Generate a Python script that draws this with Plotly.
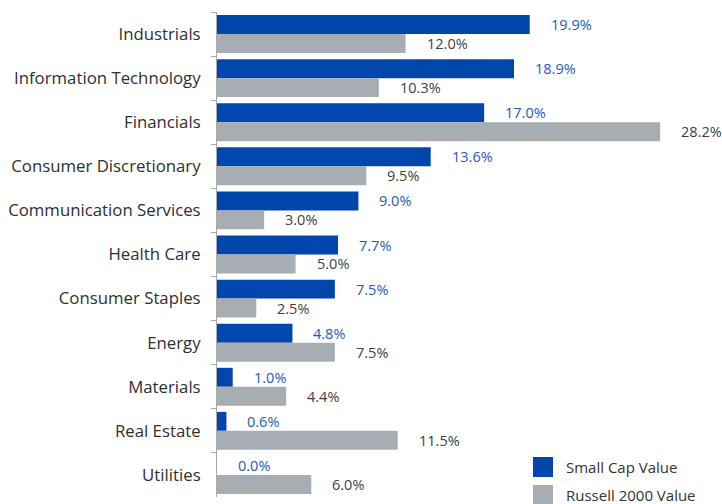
import plotly.graph_objects as go

categories = ["Industrials", "Information Technology", "Financials", "Consumer Discretionary",
              "Communication Services", "Health Care", "Consumer Staples", "Energy",
              "Materials", "Real Estate", "Utilities"]
small_cap = [19.9, 18.9, 17.0, 13.6, 9.0, 7.7, 7.5, 4.8, 1.0, 0.6, 0.0]
russell = [12.0, 10.3, 28.2, 9.5, 3.0, 5.0, 2.5, 7.5, 4.4, 11.5, 6.0]
series_names = ["Small Cap Value", "Russell 2000 Value"]

BLUE = "#0046AD"
GREY = "#A6AEB4"
FONT = "Open Sans"

fig = go.Figure()
fig.add_trace(go.Bar(y=categories, x=small_cap, orientation="h", name=series_names[0],
                     marker=dict(color=BLUE, line=dict(width=0)), showlegend=False))
fig.add_trace(go.Bar(y=categories, x=russell, orientation="h", name=series_names[1],
                     marker=dict(color=GREY, line=dict(width=0)), showlegend=False))

BAND_PX = 485 / 11
BARGAP = 0.14
OFF = BAND_PX * (1 - BARGAP) / 4

ann = []
for c, v in zip(categories, small_cap):
    ann.append(dict(x=v, y=c, text=f"{v:.1f}%", showarrow=False, xanchor="left",
                    xshift=19, yshift=OFF, font=dict(family=FONT, size=14.5, color="#2558C4")))
for c, v in zip(categories, russell):
    ann.append(dict(x=v, y=c, text=f"{v:.1f}%", showarrow=False, xanchor="left",
                    xshift=19, yshift=-OFF, font=dict(family=FONT, size=14.5, color="#404040")))

# legend (manual)
L, R, T, B = 217, 10, 12, 7
PW, PH = 722 - L - R, 504 - T - B
def px(x): return (x - L) / PW
def py(y): return (504 - B - y) / PH
shapes = []
for i, (name, col) in enumerate(zip(series_names, [BLUE, GREY])):
    y0 = 457 + i * 28
    shapes.append(dict(type="rect", xref="paper", yref="paper", x0=px(533), x1=px(553),
                       y0=py(y0 + 20), y1=py(y0), fillcolor=col, line=dict(width=0)))
    ann.append(dict(xref="paper", yref="paper", x=px(564), y=py(y0 + 10), text=name,
                    showarrow=False, xanchor="left", yanchor="middle",
                    font=dict(family=FONT, size=15, color="#333333")))

fig.update_layout(
    width=722, height=504,
    margin=dict(l=L, r=R, t=T, b=B),
    paper_bgcolor="white", plot_bgcolor="white",
    barmode="group", bargap=BARGAP, bargroupgap=0,
    annotations=ann, shapes=shapes,
    font=dict(family=FONT, color="#333333"),
)
fig.update_xaxes(range=[0, 31.5], visible=False)
fig.update_yaxes(autorange="reversed", showline=True, linecolor="#A8A8A8", linewidth=1,
                 ticks="outside", tickson="boundaries", ticklen=5, tickcolor="#A8A8A8",
                 tickfont=dict(family=FONT, size=16.8, color="#2f2f2f"), showgrid=False,
                 ticklabelstandoff=12)

fig.write_html("out.html", config={"displayModeBar": False},
               post_script="document.body.style.margin='0';document.body.style.padding='0';")
